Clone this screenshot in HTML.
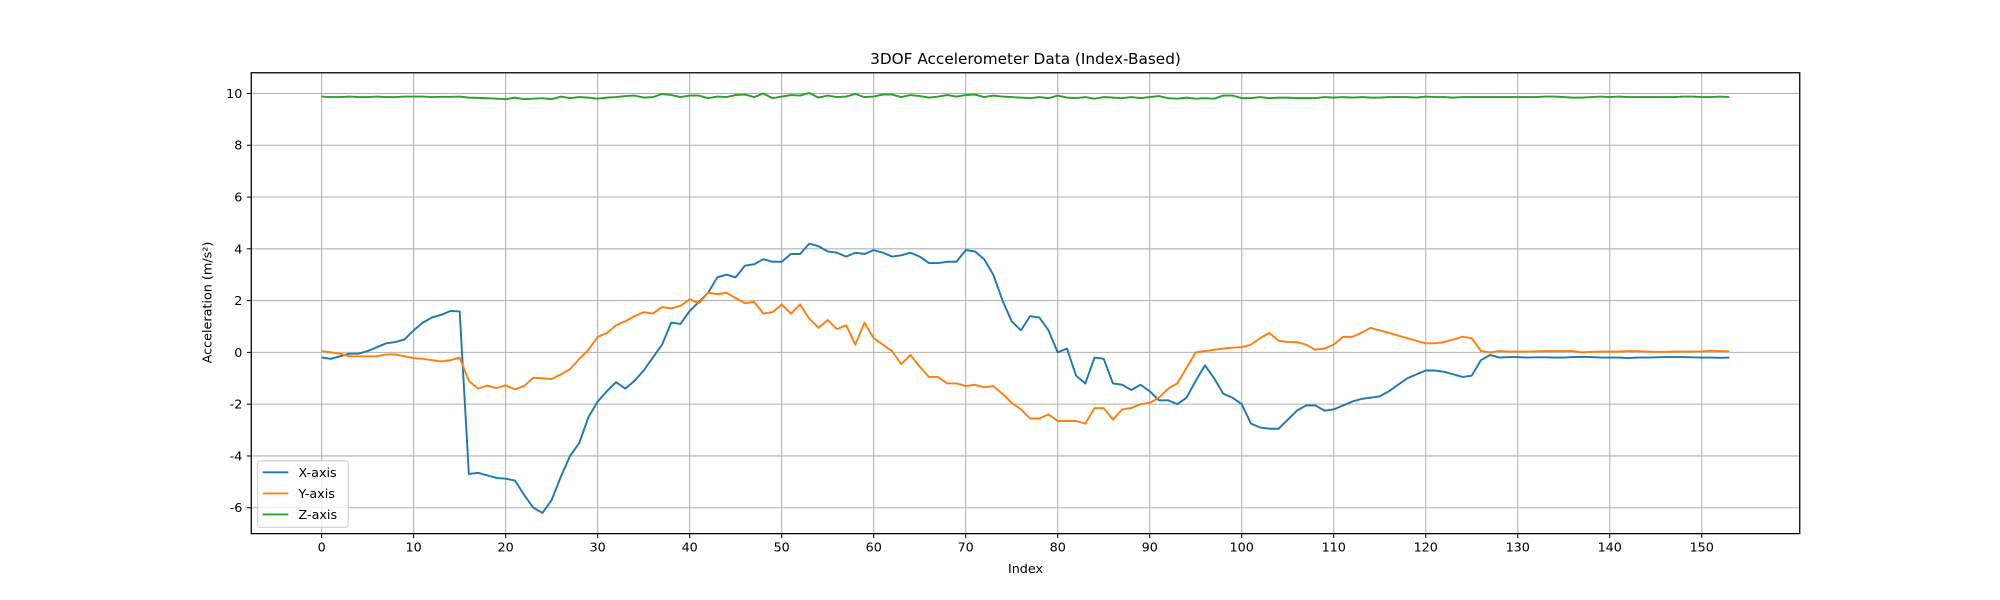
<!DOCTYPE html>
<html><head><meta charset="utf-8"><style>
html,body{margin:0;padding:0;background:#fff;}
svg{display:block;font-family:"DejaVu Sans","Liberation Sans",sans-serif;}
</style></head><body>
<svg id="chart" width="2000" height="600" viewBox="0 0 1568 470" preserveAspectRatio="none" xmlns="http://www.w3.org/2000/svg">
<rect width="1568" height="470" fill="#fff"/>
<g id="grid"></g>
<g id="series"></g>
<rect x="197" y="57" width="1214" height="361" fill="none" stroke="#000" stroke-width="1"/>
<g id="ticks"></g>
<text x="804" y="50" text-anchor="middle" font-size="12">3DOF Accelerometer Data (Index-Based)</text>
<text x="804" y="449" text-anchor="middle" font-size="10">Index</text>
<text transform="translate(166,237) rotate(-90)" text-anchor="middle" font-size="10">Acceleration (m/s²)</text>
<g id="legend"></g>
</svg>
<script>
const categoriesCount = 154;
const xValues = [-0.2,-0.25,-0.15,-0.05,-0.05,0.05,0.2,0.35,0.4,0.5,0.85,1.15,1.35,1.45,1.6,1.58,-4.7,-4.65,-4.75,-4.85,-4.88,-4.95,-5.5,-6.0,-6.2,-5.7,-4.8,-4.0,-3.5,-2.5,-1.9,-1.5,-1.15,-1.4,-1.1,-0.7,-0.2,0.3,1.15,1.1,1.6,1.95,2.3,2.9,3.0,2.9,3.35,3.4,3.6,3.5,3.5,3.8,3.8,4.2,4.1,3.9,3.85,3.7,3.85,3.8,3.95,3.85,3.7,3.75,3.85,3.7,3.45,3.45,3.5,3.5,3.95,3.9,3.6,3.0,2.0,1.2,0.85,1.4,1.35,0.85,0.0,0.15,-0.9,-1.2,-0.2,-0.25,-1.2,-1.25,-1.45,-1.25,-1.5,-1.85,-1.85,-2.0,-1.75,-1.1,-0.5,-1.0,-1.6,-1.75,-2.0,-2.75,-2.9,-2.95,-2.95,-2.6,-2.25,-2.05,-2.05,-2.25,-2.2,-2.05,-1.9,-1.8,-1.75,-1.7,-1.5,-1.25,-1.0,-0.85,-0.7,-0.7,-0.75,-0.85,-0.95,-0.9,-0.3,-0.1,-0.2,-0.18,-0.18,-0.2,-0.19,-0.19,-0.2,-0.2,-0.18,-0.17,-0.18,-0.2,-0.2,-0.2,-0.22,-0.2,-0.2,-0.19,-0.18,-0.18,-0.18,-0.19,-0.2,-0.2,-0.21,-0.2];
const yValues = [0.05,0.0,-0.05,-0.15,-0.15,-0.15,-0.15,-0.08,-0.08,-0.15,-0.22,-0.25,-0.3,-0.35,-0.3,-0.2,-1.1,-1.4,-1.28,-1.38,-1.27,-1.43,-1.3,-0.98,-1.0,-1.03,-0.85,-0.65,-0.25,0.1,0.6,0.75,1.05,1.2,1.4,1.55,1.5,1.75,1.7,1.8,2.05,1.9,2.3,2.25,2.3,2.1,1.9,1.95,1.5,1.55,1.85,1.5,1.85,1.3,0.95,1.25,0.9,1.05,0.3,1.15,0.55,0.3,0.05,-0.45,-0.1,-0.55,-0.95,-0.95,-1.2,-1.2,-1.3,-1.25,-1.35,-1.3,-1.6,-1.95,-2.2,-2.55,-2.55,-2.4,-2.65,-2.65,-2.65,-2.75,-2.15,-2.15,-2.6,-2.2,-2.15,-2.0,-1.95,-1.75,-1.4,-1.2,-0.6,0.0,0.05,0.1,0.15,0.18,0.2,0.3,0.55,0.75,0.45,0.4,0.4,0.3,0.1,0.15,0.3,0.6,0.6,0.75,0.95,0.85,0.75,0.65,0.55,0.45,0.35,0.35,0.4,0.5,0.6,0.55,0.05,0.0,0.05,0.03,0.03,0.03,0.04,0.05,0.05,0.05,0.05,0.0,0.02,0.03,0.03,0.03,0.05,0.05,0.03,0.02,0.02,0.03,0.03,0.03,0.04,0.06,0.05,0.04];
const zValues = [9.88,9.86,9.86,9.88,9.86,9.86,9.88,9.86,9.86,9.88,9.88,9.88,9.86,9.87,9.87,9.88,9.84,9.83,9.82,9.8,9.78,9.84,9.78,9.8,9.82,9.78,9.88,9.82,9.86,9.84,9.8,9.84,9.86,9.9,9.92,9.84,9.86,9.98,9.94,9.86,9.92,9.92,9.82,9.88,9.86,9.94,9.96,9.86,10.0,9.82,9.88,9.94,9.92,10.02,9.84,9.92,9.86,9.88,9.98,9.86,9.88,9.96,9.96,9.86,9.94,9.9,9.84,9.88,9.94,9.88,9.94,9.96,9.86,9.92,9.88,9.86,9.84,9.82,9.86,9.82,9.92,9.84,9.82,9.86,9.8,9.86,9.84,9.82,9.86,9.82,9.86,9.9,9.82,9.8,9.84,9.8,9.82,9.8,9.92,9.92,9.82,9.82,9.86,9.82,9.84,9.84,9.82,9.82,9.82,9.86,9.84,9.86,9.84,9.86,9.84,9.84,9.86,9.86,9.86,9.84,9.88,9.86,9.86,9.84,9.86,9.86,9.86,9.86,9.86,9.86,9.86,9.86,9.86,9.88,9.88,9.86,9.84,9.84,9.86,9.88,9.86,9.88,9.86,9.86,9.86,9.86,9.86,9.86,9.88,9.88,9.86,9.86,9.88,9.86];
const xTicks = [0,10,20,30,40,50,60,70,80,90,100,110,120,130,140,150];
const yTicks = [-6,-4,-2,0,2,4,6,8,10];
const seriesNames = ["X-axis","Y-axis","Z-axis"];
const seriesColors = ["#1f77b4","#ff7f0e","#2ca02c"];

const NS="http://www.w3.org/2000/svg";
const L=197,R=1411,T=57,B=418;
const xMin=-7.65,xMax=160.65,yMin=-7.0,yMax=10.8;
function sx(v){return L+(v-xMin)/(xMax-xMin)*(R-L);}
function sy(v){return B-(v-yMin)/(yMax-yMin)*(B-T);}
function mk(tag,attrs,parent){const e=document.createElementNS(NS,tag);for(const k in attrs)e.setAttribute(k,attrs[k]);parent.appendChild(e);return e;}
const grid=document.getElementById('grid'),ticks=document.getElementById('ticks'),ser=document.getElementById('series'),leg=document.getElementById('legend');
xTicks.forEach(t=>{
  const x=sx(t);
  const g=mk('line',{x1:x,x2:x,y1:T,y2:B,stroke:'#b0b0b0','stroke-width':0.8},grid);
  
  
  mk('line',{x1:x,x2:x,y1:B,y2:B+3.5,stroke:'#000','stroke-width':0.8},ticks);
  const tx=mk('text',{x:x,y:B+14,'text-anchor':'middle','font-size':10},ticks);
  tx.textContent=t;
  
  
});
yTicks.forEach(t=>{
  const y=sy(t);
  const g=mk('line',{x1:L,x2:R,y1:y,y2:y,stroke:'#b0b0b0','stroke-width':0.8},grid);
  
  
  mk('line',{x1:L-3.5,x2:L,y1:y,y2:y,stroke:'#000','stroke-width':0.8},ticks);
  const tx=mk('text',{x:L-7,y:y+3.5,'text-anchor':'end','font-size':10},ticks);
  tx.textContent=t;
  
  
});
[xValues,yValues,zValues].forEach((vals,i)=>{
  const d=vals.map((v,k)=>(k?'L':'M')+sx(k).toFixed(2)+','+sy(v).toFixed(2)).join('');
  const p=mk('path',{d:d,fill:'none',stroke:seriesColors[i],'stroke-width':1.5,'stroke-linejoin':'round'},ser);
  
  
});
mk('rect',{x:202,y:361,width:71,height:52,rx:2,fill:'#fff','fill-opacity':0.8,stroke:'#ccc','stroke-width':0.8},leg);
seriesNames.forEach((n,i)=>{
  const y=370+i*16.5;
  const ln=mk('line',{x1:206,x2:226,y1:y,y2:y,stroke:seriesColors[i],'stroke-width':1.5},leg);
  
  
  const t=mk('text',{x:234,y:y+3.5,'font-size':10},leg);
  t.textContent=n;
  
  
});
</script>
</body></html>
